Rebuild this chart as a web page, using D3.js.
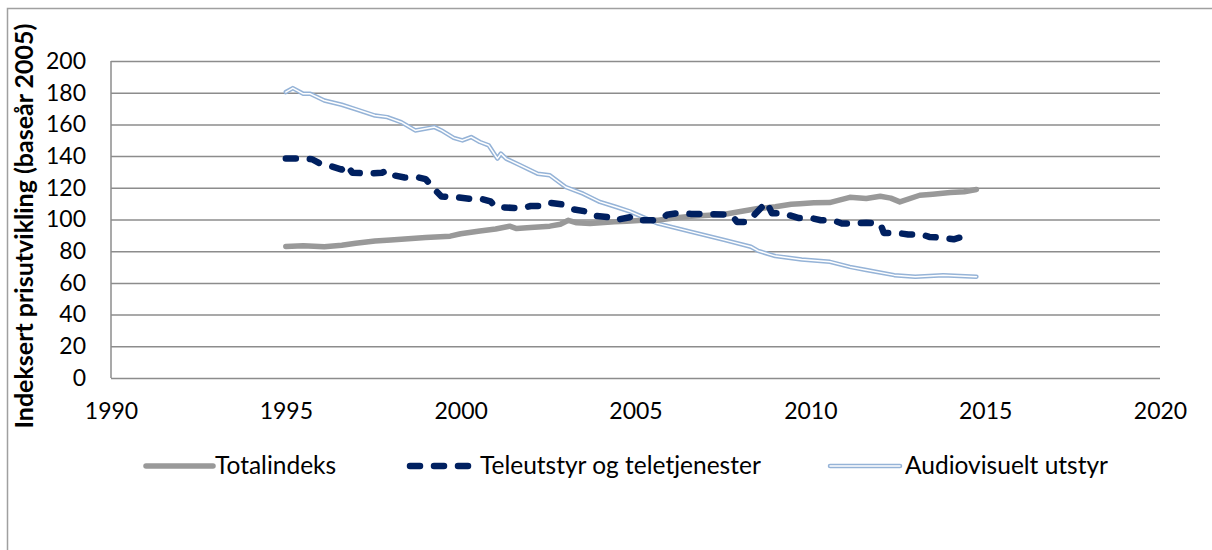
<!DOCTYPE html>
<html>
<head>
<meta charset="utf-8">
<script src="https://cdn.jsdelivr.net/npm/d3@7"></script>
<style>
  body { margin: 0; background: #fff; }
  text { font-family: Lato, "Open Sans", sans-serif; fill: #000; }
</style>
</head>
<body>
<svg id="lineChart" width="1212" height="550"></svg>
<script>
// data (decimal year, index base 2005)
const totalYears = [1995.0, 1995.5, 1996.1, 1996.6, 1997.0, 1997.55, 1998.0, 1998.5, 1999.0, 1999.7, 2000.0, 2000.55,
  2001.0, 2001.4, 2001.6, 2002.0, 2002.55, 2002.85, 2003.08, 2003.32, 2003.7, 2004.0, 2004.4, 2004.75, 2005.2, 2005.65,
  2006.1, 2006.6, 2007.1, 2007.55, 2008.0, 2008.5, 2009.0, 2009.45, 2009.7, 2010.1, 2010.55, 2011.13, 2011.6, 2012.0,
  2012.3, 2012.56, 2013.13, 2013.5, 2014.0, 2014.4, 2014.75];
const totalValues = [83.0, 83.5, 82.8, 83.8, 85.0, 86.5, 87.0, 87.8, 88.6, 89.5, 91.0, 92.8,
  94.0, 95.8, 94.3, 95.0, 95.8, 97.0, 99.5, 97.9, 97.5, 97.9, 98.5, 98.9, 99.5, 99.6,
  101.0, 102.0, 102.7, 103.3, 105.0, 106.9, 108.0, 109.6, 110.0, 110.5, 110.7, 114.0, 113.2, 114.7,
  113.5, 111.1, 115.3, 116.0, 117.0, 117.5, 118.9];

const teleYears = [1995.0, 1995.5, 1995.75, 1996.0, 1996.3, 1996.6, 1996.75, 1996.9, 1997.4, 1997.75, 1997.9, 1998.05,
  1998.4, 1998.8, 1999.0, 1999.25, 1999.45, 1999.9, 2000.3, 2000.6, 2000.85, 2001.0, 2001.7, 2002.0, 2002.35, 2002.55,
  2002.9, 2003.2, 2003.6, 2003.8, 2004.2, 2004.4, 2004.85, 2005.0, 2005.5, 2005.75, 2005.9, 2006.2, 2006.6, 2007.2,
  2007.75, 2007.9, 2008.2, 2008.4, 2008.75, 2008.9, 2009.2, 2009.65, 2010.0, 2010.3, 2010.65, 2010.9, 2011.3, 2011.6,
  2012.0, 2012.1, 2012.5, 2012.8, 2013.2, 2013.4, 2013.8, 2014.1, 2014.5];
const teleValues = [138.5, 138.5, 138, 135, 133.5, 131.5, 134.5, 129.5, 129, 129.5, 131, 128,
  126.5, 126.5, 125.5, 119, 114.5, 114, 113, 113, 111.5, 108, 107, 108.5, 108.5, 110.5,
  109.5, 106.5, 105, 102.5, 101.5, 99.5, 101.5, 99.5, 99.5, 100.5, 103, 104, 103.5, 103.3,
  103, 98.5, 98.5, 103, 111, 104, 104, 101, 101, 99.5, 99.5, 97.5, 97.5, 98,
  97.5, 91.5, 91.5, 90.5, 90.5, 89, 88.5, 87.5, 90];

const avYears = [1995.0, 1995.2, 1995.5, 1995.7, 1996.1, 1996.6, 1997.05, 1997.55, 1997.9, 1998.3, 1998.7, 1999.25,
  1999.45, 1999.8, 2000.05, 2000.3, 2000.55, 2000.8, 2001.05, 2001.15, 2001.3, 2001.7, 2002.2, 2002.55, 2003.0, 2003.5,
  2003.98, 2004.45, 2004.85, 2005.65, 2006.6, 2007.56, 2008.3, 2008.51, 2009.0, 2009.75, 2010.56, 2011.13, 2011.6,
  2012.4, 2013.0, 2013.8, 2014.75];
const avValues = [180.4, 182.9, 179.3, 179.3, 175.1, 172.4, 169.2, 165.6, 164.6, 161.4, 156.2, 158.3,
  156.2, 151.5, 149.9, 152, 148.9, 146.8, 138.4, 141.6, 138.4, 134.2, 128.9, 127.9, 120.5, 116.3,
  111.1, 107.9, 105, 97.4, 92.2, 87.0, 82.8, 80.2, 76.9, 74.8, 73.3, 70.1, 68.1,
  64.9, 63.9, 64.9, 63.9];

const xTicks = [1990, 1995, 2000, 2005, 2010, 2015, 2020];
const yTicks = [0, 20, 40, 60, 80, 100, 120, 140, 160, 180, 200];
const seriesNames = ["Totalindeks", "Teleutstyr og teletjenester", "Audiovisuelt utstyr"];
const yTitle = "Indeksert prisutvikling (baseår 2005)";

const svg = d3.select("#lineChart"),
    margin = {top: 61, right: 52, bottom: 172, left: 111},
    width = 1212 - margin.left - margin.right,
    height = 550 - margin.top - margin.bottom;

// outer chart border (runs off the right/bottom of the picture)
svg.append("rect")
  .attr("x", 7.5).attr("y", 8.5)
  .attr("width", 1230).attr("height", 600)
  .style("fill", "none")
  .style("stroke", "#a0a0a0")
  .style("stroke-width", 1.5);

const x = d3.scaleLinear().domain([1990, 2020]).range([0, width]);
const y = d3.scaleLinear().domain([0, 200]).range([height, 0]);

const g = svg.append("g")
  .attr("transform", "translate(" + margin.left + "," + margin.top + ")");

// horizontal grid
g.append("g")
  .attr("class", "grid")
  .call(d3.axisLeft(y).tickValues(yTicks).tickSize(-width).tickFormat(""))
  .call(a => a.select(".domain").remove())
  .selectAll("line")
  .style("stroke", "#8c8c8c")
  .style("stroke-width", 1.5);

// left edge of plot
g.append("line")
  .attr("x1", 0).attr("x2", 0)
  .attr("y1", 0).attr("y2", height)
  .style("stroke", "#8c8c8c")
  .style("stroke-width", 1.5);

// y labels
g.append("g")
  .call(d3.axisLeft(y).tickValues(yTicks).tickSize(0).tickPadding(25))
  .call(a => a.select(".domain").remove())
  .selectAll("text")
  .style("font-size", "23px");

// x labels
g.append("g")
  .attr("transform", "translate(0," + height + ")")
  .call(d3.axisBottom(x).tickValues(xTicks).tickSize(0).tickPadding(25).tickFormat(d3.format("d")))
  .call(a => a.select(".domain").remove())
  .selectAll("text")
  .style("font-size", "23px");

// y title
svg.append("text")
  .attr("transform", "translate(33,226) rotate(-90)")
  .style("text-anchor", "middle")
  .style("font-weight", "bold")
  .style("font-size", "25px")
  .text(yTitle);

const line = d3.line()
  .x(d => x(d[0]))
  .y(d => y(d[1]));

const totalData = d3.zip(totalYears, totalValues);
const teleData = d3.zip(teleYears, teleValues);
const avData = d3.zip(avYears, avValues);

// audiovisuelt: double line (blue outline, white core)
g.append("path").datum(avData)
  .attr("d", line)
  .style("fill", "none").style("stroke", "#95b3d7").style("stroke-width", 4.5)
  .style("stroke-linejoin", "round").style("stroke-linecap", "round");
g.append("path").datum(avData)
  .attr("d", line)
  .style("fill", "none").style("stroke", "#fff").style("stroke-width", 1.5)
  .style("stroke-linejoin", "round").style("stroke-linecap", "round");

// totalindeks
g.append("path").datum(totalData)
  .attr("d", line)
  .style("fill", "none").style("stroke", "#999999").style("stroke-width", 5.5)
  .style("stroke-linejoin", "round").style("stroke-linecap", "round");

// teleutstyr, dashed
g.append("path").datum(teleData)
  .attr("d", line)
  .style("fill", "none").style("stroke", "#002060").style("stroke-width", 6.5)
  .style("stroke-dasharray", "10,14")
  .style("stroke-linejoin", "round").style("stroke-linecap", "round");

// legend
const legendY = 466;
const legend = [
  {name: seriesNames[0], x0: 146, x1: 213, tx: 215},
  {name: seriesNames[1], x0: 410, x1: 475, tx: 480},
  {name: seriesNames[2], x0: 830, x1: 900, tx: 905}
];

svg.append("line")
  .attr("x1", legend[0].x0).attr("x2", legend[0].x1)
  .attr("y1", legendY).attr("y2", legendY)
  .style("stroke", "#999999").style("stroke-width", 5.5).style("stroke-linecap", "round");

svg.append("line")
  .attr("x1", legend[1].x0).attr("x2", legend[1].x1)
  .attr("y1", legendY).attr("y2", legendY)
  .style("stroke", "#002060").style("stroke-width", 6.5)
  .style("stroke-dasharray", "10,14").style("stroke-linecap", "round");

svg.append("line")
  .attr("x1", legend[2].x0).attr("x2", legend[2].x1)
  .attr("y1", legendY).attr("y2", legendY)
  .style("stroke", "#95b3d7").style("stroke-width", 4.5).style("stroke-linecap", "round");
svg.append("line")
  .attr("x1", legend[2].x0).attr("x2", legend[2].x1)
  .attr("y1", legendY).attr("y2", legendY)
  .style("stroke", "#fff").style("stroke-width", 1.5).style("stroke-linecap", "round");

svg.selectAll(".legText")
  .data(legend)
  .enter()
  .append("text")
  .attr("class", "legText")
  .attr("x", d => d.tx)
  .attr("y", legendY + 8)
  .style("font-size", "24.5px")
  .text(d => d.name);
</script>
</body>
</html>
